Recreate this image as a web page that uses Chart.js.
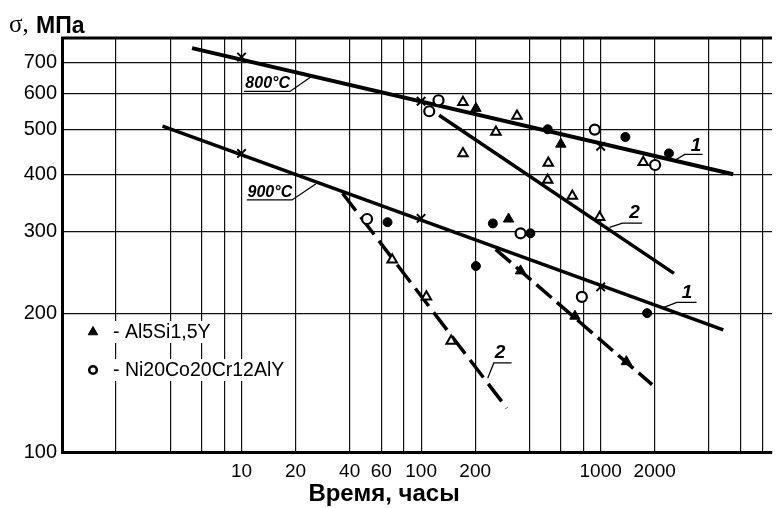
<!DOCTYPE html>
<html>
<head>
<meta charset="utf-8">
<script src="https://cdn.jsdelivr.net/npm/chart.js@4.4.1/dist/chart.umd.min.js"></script>
<style>
    html, body { margin: 0; padding: 0; background: #fff; overflow: hidden; }
    #wrap { width: 780px; height: 508px; }
</style>
</head>
<body>
<div id="wrap"><canvas id="grafico" width="780" height="508"></canvas></div>
<script>
// ejes
const ticksX = [1, 2, 4, 6, 8, 10, 20, 40, 60, 80, 100, 200, 400, 600, 800, 1000, 2000, 4000, 6000, 8000];
const etiquetasX = [10, 20, 40, 60, 100, 200, 1000, 2000];
const ticksY = [100, 200, 300, 400, 500, 600, 700];

// Al5Si1,5Y (triangulos llenos)
const alX = [202, 600, 307, 358, 719, 1390];
const alY = [556, 465, 320, 247, 197, 157];

// Ni20Co20Cr12AlY (circulos vacios)
const niX = [125, 111, 927, 2010, 50, 358, 786];
const niY = [579, 548, 500, 419, 320, 298, 217];

// triangulos vacios
const triX = [171, 342, 261, 171, 511, 507, 695, 987, 1726, 69, 107, 147];
const triY = [573, 535, 494, 444, 423, 389, 359, 323, 425, 261, 217, 174];

// circulos llenos
const dotX = [507, 1373, 2400, 65, 251, 406, 202, 1815];
const dotY = [501, 482, 444, 315, 313, 298, 253, 200];

// cruces sobre las rectas
const cruzX = [10, 100, 1000, 10, 100, 1000];
const cruzY = [718, 576, 460, 444, 321, 228];

// rectas
const r800_1X = [5.3, 5470], r800_1Y = [751, 400];
const r800_2X = [126, 2560], r800_2Y = [537, 244];
const r900_1X = [3.63, 4820], r900_1Y = [509, 184];
const r900_2aX = [36.5, 300], r900_2aY = [364, 124.5];
const r900_2bX = [260, 1935], r900_2bY = [275, 140];

const pares = (xs, ys) => xs.map((v, i) => ({x: v, y: ys[i]}));

const FUENTE = "'Liberation Sans', Arial, sans-serif";

// textos con subrayado y linea guia (coordenadas de datos)
const notas = [
    {t: '800°C', x: 10.5, y: 615, size: 16, linea: [[10.3, 605], [18.6, 605], [24.3, 650]]},
    {t: '900°C', x: 10.8, y: 357, size: 16, linea: [[10.7, 352], [19.1, 352], [25.9, 381]]},
    {t: '1', x: 3170, y: 449, size: 19, linea: [[2590, 429], [2940, 442], [3695, 442]]},
    {t: '2', x: 1445, y: 321, size: 19, linea: [[1121, 307], [1322, 313.5], [1703, 313.5]]},
    {t: '1', x: 2830, y: 216, size: 19, linea: [[2196, 205], [2656, 211], [3420, 211]]},
    {t: '2', x: 257, y: 160, size: 19, linea: [[235, 144.6], [254, 156], [319, 156]]}
];

const extras = {
    id: 'extras',
    afterDatasetsDraw(chart) {
        const {ctx, chartArea: a, scales: {x, y}} = chart;
        ctx.save();
        // marco superior
        ctx.strokeStyle = '#000';
        ctx.lineWidth = 3;
        ctx.beginPath();
        ctx.moveTo(a.left - 1, a.top);
        ctx.lineTo(a.right, a.top);
        ctx.stroke();

        // notas
        ctx.lineWidth = 1.3;
        notas.forEach(n => {
            ctx.beginPath();
            n.linea.forEach(([vx, vy], i) => {
                const px = x.getPixelForValue(vx), py = y.getPixelForValue(vy);
                if (i) ctx.lineTo(px, py); else ctx.moveTo(px, py);
            });
            ctx.stroke();
            ctx.font = 'italic bold ' + n.size + 'px ' + FUENTE;
            ctx.fillStyle = '#000';
            ctx.textAlign = 'left';
            ctx.textBaseline = 'alphabetic';
            ctx.fillText(n.t, x.getPixelForValue(n.x), y.getPixelForValue(n.y));
        });

        // leyenda
        const lx = a.left + 31;
        const filas = [
            {y: a.top + 294, txt: '- Al5Si1,5Y', est: 'triangle', r: 5.5, bg: '#000', bw: 1},
            {y: a.top + 332, txt: '- Ni20Co20Cr12AlY', est: 'circle', r: 3.8, bg: '#fff', bw: 2.6}
        ];
        ctx.font = '19.5px ' + FUENTE;
        filas.forEach(f => {
            const w = ctx.measureText(f.txt).width;
            ctx.fillStyle = '#fff';
            ctx.fillRect(lx + 18, f.y - 11, w + 4, 22);
            ctx.fillStyle = f.bg;
            ctx.strokeStyle = '#000';
            ctx.lineWidth = f.bw;
            Chart.helpers.drawPoint(ctx, {pointStyle: f.est, radius: f.r, borderWidth: f.bw}, lx, f.y);
            ctx.fillStyle = '#000';
            ctx.textAlign = 'left';
            ctx.textBaseline = 'middle';
            ctx.fillText(f.txt, lx + 20, f.y + 1);
        });

        // titulos de ejes
        ctx.textBaseline = 'alphabetic';
        ctx.font = '25px "Liberation Serif", "Times New Roman", serif';
        ctx.fillText('σ,', 9, 32);
        ctx.font = 'bold 23px ' + FUENTE;
        ctx.fillText('МПа', 36, 33);
        ctx.textAlign = 'center';
        ctx.font = 'bold 24px ' + FUENTE;
        ctx.fillText('Время, часы', 384, 501);
        ctx.restore();
    }
};

const linea = (xs, ys, ancho, guion) => ({
    data: pares(xs, ys),
    showLine: true,
    borderColor: '#000',
    borderWidth: ancho,
    borderDash: guion || [],
    pointRadius: 0,
    fill: false
});

new Chart(document.getElementById('grafico'), {
    type: 'scatter',
    data: {
        datasets: [
            {data: pares(alX, alY), pointStyle: 'triangle', pointRadius: 6, backgroundColor: '#000', borderColor: '#000', borderWidth: 1},
            {data: pares(niX, niY), pointStyle: 'circle', pointRadius: 5, backgroundColor: '#fff', borderColor: '#000', borderWidth: 2.2},
            {data: pares(triX, triY), pointStyle: 'triangle', pointRadius: 5.5, backgroundColor: '#fff', borderColor: '#000', borderWidth: 2},
            {data: pares(dotX, dotY), pointStyle: 'circle', pointRadius: 4.5, backgroundColor: '#000', borderColor: '#000', borderWidth: 1},
            {data: pares(cruzX, cruzY), pointStyle: 'crossRot', pointRadius: 6, borderColor: '#000', borderWidth: 2},
            linea(r800_1X, r800_1Y, 4),
            linea(r800_2X, r800_2Y, 3.5),
            linea(r900_1X, r900_1Y, 3.5),
            linea(r900_2aX, r900_2aY, 3.5, [22, 8]),
            linea(r900_2bX, r900_2bY, 3.5, [20, 7])
        ]
    },
    options: {
        responsive: false,
        animation: false,
        devicePixelRatio: 1,
        events: [],
        layout: {padding: {top: 38, right: 0, left: 0, bottom: 0}},
        plugins: {legend: {display: false}, tooltip: {enabled: false}},
        scales: {
            x: {
                type: 'logarithmic',
                min: 1,
                max: 9000,
                afterBuildTicks: s => { s.ticks = ticksX.map(v => ({value: v})); },
                afterFit: s => { s.height = 56; },
                grid: {color: '#111', lineWidth: 1.2, drawTicks: false},
                border: {color: '#000', width: 3},
                ticks: {
                    autoSkip: false,
                    maxRotation: 0,
                    padding: 8,
                    color: '#000',
                    font: {family: FUENTE, size: 19},
                    callback: v => etiquetasX.includes(v) ? String(v) : ''
                }
            },
            y: {
                type: 'logarithmic',
                min: 100,
                max: 790,
                afterBuildTicks: s => { s.ticks = ticksY.map(v => ({value: v})); },
                afterFit: s => { s.width = 62; },
                grid: {color: '#111', lineWidth: 1.2, drawTicks: false},
                border: {color: '#000', width: 3},
                ticks: {
                    padding: 5,
                    color: '#000',
                    font: {family: FUENTE, size: 20},
                    callback: v => String(v)
                }
            }
        }
    },
    plugins: [extras]
});
</script>
</body>
</html>
